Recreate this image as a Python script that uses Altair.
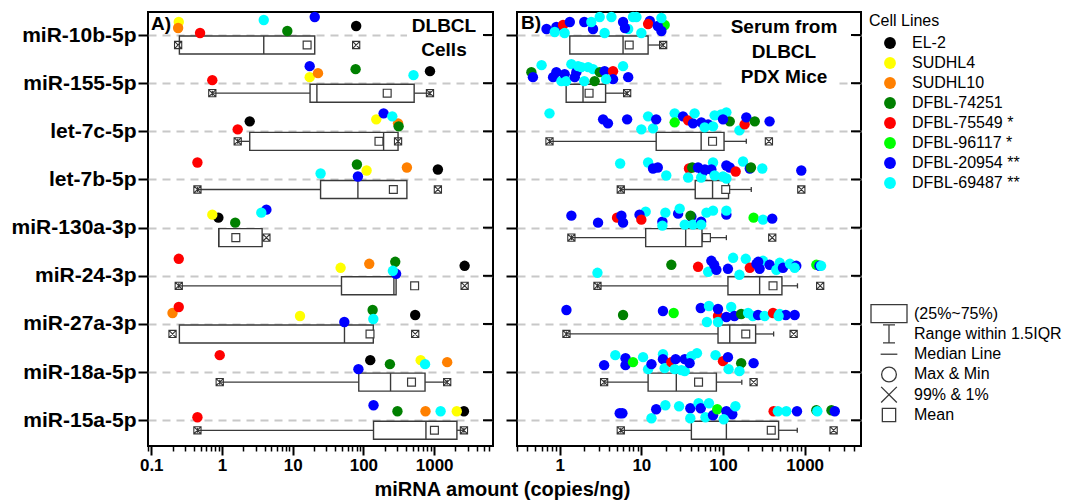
import altair as alt
import pandas as pd

rows = ["miR-10b-5p", "miR-155-5p", "let-7c-5p", "let-7b-5p", "miR-130a-3p",
        "miR-24-3p", "miR-27a-3p", "miR-18a-5p", "miR-15a-5p"]
cell_lines = ["EL-2", "SUDHL4", "SUDHL10", "DFBL-74251", "DFBL-75549 *",
              "DFBL-96117 *", "DFBL-20954 **", "DFBL-69487 **"]
line_colors = ["#000000", "#ffff00", "#ff8000", "#008000", "#ff0000",
               "#00ff00", "#0000ff", "#00ffff"]

# ---------------- Panel A: DLBCL cells (copies/ng), one value per miRNA ----------------
A_EL2 = [79, 874, 2.47, 1130, 0.89, 2700, 540, 125, 2640]
A_SUDHL4 = [0.245, 17.4, 152, 111, 0.73, 47.6, 12.7, 645, 2090]
A_SUDHL10 = [0.24, 22.8, 309, 412, None, 121, 0.20, 1530, 755]
A_74251 = [8.4, 77.6, 315, 81, 1.54, 282, 135, 237, 303]
A_75549 = [0.49, 0.73, 1.67, 0.45, None, 0.245, 0.245, 0.93, 0.45]
A_20954 = [20.5, 17.4, 193, 83.6, 4.25, 290, 53.7, 85, 139]
A_69487 = [3.9, 511, 256, 24.8, 3.6, 261, 138, 744, 1235]
# vertical jitter of each dot above its row line, as drawn (px)
A_EL2_dy = [9, 12, 10, 10, 10, 10, 9, 12, 9]
A_SUDHL4_dy = [13, 6, 12, 9, 13, 8, 8, 12, 9]
A_SUDHL10_dy = [7, 10, 8, 12, None, 12, 11, 10, 9]
A_74251_dy = [4, 14, 5, 15, 5, 14, 14, 8, 9]
A_75549_dy = [2, 3, 2, 17, None, 17, 17, 17, 3]
A_20954_dy = [18, 17, 18, 3, 18, 2, 2, 3, 15]
A_69487_dy = [15, 8, 15, 6, 15, 5, 5, 8, 9]

A_q1 = [0.25, 17.6, 2.47, 24.8, 0.9, 49, 0.25, 86, 139]
A_q3 = [20.5, 522, 309, 412, 3.7, 290, 138, 744, 2100]
A_med = [3.9, 22, 193, 83.6, 0.9, 270, 54, 242, 766]
A_mean = [16, 217, 166, 265, 1.57, 530, 124, 479, 1010]
A_wlo = [0.25, 0.73, 1.67, 0.45, 0.9, 0.245, 0.25, 0.93, 0.45]
A_whi = [20.5, 874, 309, 412, 3.7, 290, 138, 1530, 2640]
A_p1 = [0.24, 0.73, 1.67, 0.45, None, 0.245, 0.2, 0.93, 0.45]
A_p99 = [79, 874, 309, 1130, 4.25, 2700, 540, 1530, 2640]

# ---------------- Panel B: serum from PDX mice ----------------
# codes: b=DFBL-20954, c=DFBL-69487, r=DFBL-75549, g=DFBL-74251, l=DFBL-96117
code_map = {"b": "DFBL-20954 **", "c": "DFBL-69487 **", "r": "DFBL-75549 *",
            "g": "DFBL-74251", "l": "DFBL-96117 *"}

B0_val = [0.69, 0.91, 1.1, 1.33, 0.87, 1.15, 2.0, 2.56, 2.44, 3.09, 4.3, 3.55, 5.97, 6.9,
          7.9, 8.7, 12.7, 12.1, 19.3, 17.6, 10, 15.9, 17.6, 6.3]
B0_line = "bbrbccbbccccbcccbrlbcbcb"
B0_dy = [6, 8, 10, 13, 3, 2, 13, 6, 13, 18, 18, 2, 13, 6, 18, 18, 14, 11, 10, 4, 2, 9, 17, 7]

B1_val = [0.45, 0.47, 0.6, 0.83, 0.91, 1.05, 1.15, 1.2, 1.39, 1.53, 1.6, 1.68, 1.84, 2.0,
          2.23, 2.56, 2.68, 3.1, 3.55, 4.5, 4.5, 3.7, 5.97, 6.9]
B1_line = "gbcbbcbccbbcccccggbrbccb"
B1_dy = [11, 6, 18, 6, 11, 2, 9, 2, 19, 6, 11, 17, 16, 2, 16, 14, 2, 11, 12, 12, 4, 4, 17, 6]

B2_val = [0.75, 3.4, 3.9, 6.7, 10, 12.1, 13.9, 15.2, 25.6, 25.6, 32.4, 37.4, 42.9, 44.9,
          54.3, 65.8, 59.6, 75.5, 79, 95, 110, 121, 100, 159, 184, 193, 245, 372]
B2_line = "cbbbcccbclbrbcbbcccccgbcrbgb"
B2_dy = [18, 12, 8, 12, 2, 15, 3, 12, 18, 9, 15, 11, 8, 18, 9, 7, 4, 5, 16, 17, 19, 10, 12,
         1, 7, 14, 10, 10]

B3_val = [5.5, 12.1, 13.9, 15.9, 20.2, 38.3, 42, 49.5, 37.4, 56.9, 54, 75.5, 72, 79, 100,
          110, 110, 121, 143, 176, 213, 220, 303, 910, 60]
B3_line = "ccbbcrgbcbccbcccbbrcbgcbb"
B3_dy = [16, 17, 11, 12, 4, 11, 12, 12, 2, 8, 2, 17, 10, 4, 3, 1, 14, 12, 8, 18, 11, 12, 11,
         9, 10]

B4_val = [1.39, 2.95, 5.04, 5.7, 5.97, 11.3, 9.5, 10, 18.1, 18.1, 19.7, 28.2, 29.5, 34, 41,
          40, 42.9, 54, 54, 62.7, 75.5, 110, 110, 237, 309, 401]
B4_line = "bbrbbcbrbccbccbgcbcccbclcb"
B4_dy = [12, 5, 10, 12, 5, 16, 13, 8, 6, 2, 15, 14, 19, 3, 11, 12, 3, 6, 3, 15, 17, 13, 17,
         10, 8, 9]

B5_val = [2.9, 23.3, 49.5, 65.8, 72, 83, 78, 115, 133, 159, 190, 213, 257, 309, 281, 372,
          495, 450, 543, 660, 790, 755, 1390, 1520, 1590, 270]
B5_line = "cgrcbbbbcccrbcbbccbcbclbcb"
B5_dy = [3, 11, 9, 4, 15, 6, 11, 7, 18, 1, 17, 8, 12, 15, 7, 11, 13, 6, 8, 12, 10, 8, 11,
         10, 10, 14]

B6_val = [1.21, 5.97, 18.4, 24.9, 53.4, 67.3, 63.5, 86.9, 86.9, 86.9, 110, 126, 138, 167,
          203, 232, 269, 324, 410, 495, 587, 755, 480]
B6_line = "bgblbccrbcbcbgccbcrcbbc"
B6_dy = [14, 9, 13, 11, 16, 18, 2, 8, 15, 2, 7, 17, 8, 10, 11, 8, 9, 8, 11, 10, 9, 9, 8]

B7_val = [3.5, 4.8, 6.4, 6.4, 7.9, 10.5, 12.1, 13.3, 18.4, 18.4, 19.3, 23.3, 26.3, 25.6,
          30.9, 34, 34, 41, 39, 48, 81, 100, 115, 117, 167, 159, 237]
B7_line = "bcbblccbcbcrbccbccbccrbcgcb"
B7_dy = [7, 17, 14, 7, 10, 15, 3, 8, 18, 13, 4, 10, 13, 3, 2, 13, 1, 16, 9, 19, 17, 11, 15,
         3, 9, 1, 9]

B8_val = [5.43, 5.86, 13.3, 15.2, 19.7, 29, 39.8, 39.8, 50.2, 53.4, 61, 67.3, 75.5, 85,
          110, 130, 102, 142, 417, 470, 596, 806, 1390, 1430, 2130, 2340]
B8_line = "bbcbccbccbccblbbccrccbgcgb"
B8_dy = [7, 7, 2, 11, 15, 14, 12, 2, 17, 12, 3, 17, 5, 11, 9, 6, 1, 14, 9, 9, 9, 9, 10, 9,
         10, 9]

B_q1 = [1.33, 1.2, 15.2, 45.7, 11.3, 115, 86.9, 12.1, 41]
B_q3 = [12.1, 3.65, 103, 117, 55.3, 527, 251, 83, 480]
B_med = [5.97, 1.93, 54, 74.5, 34.9, 281, 121, 26.8, 110]
B_mean = [7.1, 2.29, 74.5, 108, 62.7, 410, 190, 50.2, 390]
B_wlo = [1.33, 1.2, 0.75, 5.6, 1.39, 2.9, 1.21, 3.5, 5.6]
B_whi = [18.5, 6.7, 193, 222, 110, 817, 417, 170, 812]
B_p1 = [None, None, 0.75, 5.6, 1.39, 2.9, 1.21, 3.5, 5.6]
B_p99 = [18.5, 6.7, 365, 910, 401, 1550, 733, 237, 2265]

box_legend_labels = ["(25%~75%)", "Range within 1.5IQR", "Median Line", "Max & Min",
                     "99% & 1%", "Mean"]

# ---------------- layout constants ----------------
H = 434
WA = 345
WB = 344
YDOM = [-0.478, 8.534]
PX = H / (YDOM[1] - YDOM[0])
XDOM_A = [0.09, 6800]
XDOM_B = [0.3, 4900]
GRAY = "#3a3a3a"
FONT = "Liberation Sans"
XPATH = "M-1,-1H1V1H-1Z M-1,-1L1,1 M-1,1L1,-1"


def ticks_in(dom):
    out = []
    for e in range(-2, 5):
        for m in range(1, 10):
            v = round(m * 10 ** e, 6)
            if dom[0] <= v <= dom[1]:
                out.append(v)
    return out


A_series = [(cell_lines[0], A_EL2, A_EL2_dy), (cell_lines[1], A_SUDHL4, A_SUDHL4_dy),
            (cell_lines[2], A_SUDHL10, A_SUDHL10_dy), (cell_lines[3], A_74251, A_74251_dy),
            (cell_lines[4], A_75549, A_75549_dy), (cell_lines[6], A_20954, A_20954_dy),
            (cell_lines[7], A_69487, A_69487_dy)]
recs = []
for name, vals, dys in A_series:
    for i, (v, d) in enumerate(zip(vals, dys)):
        if v is not None:
            recs.append(dict(row=i, value=v, line=name, dy=d))
ptsA = pd.DataFrame(recs)

B_rows = [(B0_val, B0_line, B0_dy), (B1_val, B1_line, B1_dy), (B2_val, B2_line, B2_dy),
          (B3_val, B3_line, B3_dy), (B4_val, B4_line, B4_dy), (B5_val, B5_line, B5_dy),
          (B6_val, B6_line, B6_dy), (B7_val, B7_line, B7_dy), (B8_val, B8_line, B8_dy)]
recs = []
for i, (vals, codes, dys) in enumerate(B_rows):
    for v, c, d in zip(vals, codes, dys):
        recs.append(dict(row=i, value=v, line=code_map[c], dy=d))
ptsB = pd.DataFrame(recs)


def stats_df(q1, q3, med, mean, wlo, whi):
    return pd.DataFrame(dict(row=list(range(len(rows))), q1=q1, q3=q3, med=med, mean=mean,
                             wlo=wlo, whi=whi))


def marks_df(p1, p99):
    recs = []
    for i, (a, b) in enumerate(zip(p1, p99)):
        for v in (a, b):
            if v is not None:
                recs.append(dict(row=i, value=v))
    return pd.DataFrame(recs)


stA, mkA = stats_df(A_q1, A_q3, A_med, A_mean, A_wlo, A_whi), marks_df(A_p1, A_p99)
stB, mkB = stats_df(B_q1, B_q3, B_med, B_mean, B_wlo, B_whi), marks_df(B_p1, B_p99)

one = pd.DataFrame({"k": [0]})
cscale = alt.Scale(domain=cell_lines, range=line_colors)
color_legend = alt.Legend(title="Cell Lines", orient="none", legendX=721, legendY=1,
                          titleFontSize=16, titleFontWeight="normal", titleColor="black",
                          titleFont=FONT, labelFont=FONT, labelFontSize=16,
                          labelColor="black", symbolType="circle", symbolSize=140,
                          symbolStrokeWidth=0, rowPadding=4, symbolOffset=13,
                          labelOffset=14, titlePadding=6)

major = "abs(log(datum.value)/LN10 - round(log(datum.value)/LN10)) < 0.01"
ylab_arr = "[" + ",".join("'" + r + "'" for r in rows) + "]"


def text_layer(txt, x, y, size=19, align="center"):
    return alt.Chart(one).mark_text(text=txt, font=FONT, fontSize=size, fontWeight="bold",
                                    color="black", align=align, baseline="middle").encode(
        x=alt.value(x), y=alt.value(y))


def bg_layer(x1, x2, y1, y2):
    return alt.Chart(one).mark_rect(color="white").encode(
        x=alt.value(x1), x2=alt.value(x2), y=alt.value(y1), y2=alt.value(y2))


def panel(pts, st, mk, xdom, width, show_ylabels, texts, bgs, xtitle, extra=()):
    xs = alt.Scale(type="log", domain=xdom, nice=False)
    ys = alt.Scale(domain=YDOM, reverse=True, nice=False, zero=False)
    ax_kw = dict(values=ticks_in(xdom),
                 tickSize=9,
                 tickDash={"condition": {"test": major, "value": [20, 0]},
                           "value": [5, 30]},
                 tickWidth={"condition": {"test": major, "value": 2}, "value": 1.5},
                 tickColor="black",
                 labelExpr=f"{major} ? format(datum.value, '~g') : ''",
                 labelFont=FONT, labelFontSize=17, labelFontWeight="bold",
                 labelColor="black", labelPadding=2, labelOverlap=False,
                 labelFlush=False, grid=False, domain=False)
    if xtitle:
        xaxis = alt.Axis(title=xtitle, titleFont=FONT, titleFontSize=20,
                         titleFontWeight="bold", titleColor="black", titleX=354,
                         titlePadding=6, **ax_kw)
    else:
        xaxis = alt.Axis(title=None, **ax_kw)
    yaxis = alt.Axis(values=list(range(len(rows))), title=None,
                     labels=show_ylabels,
                     labelExpr=ylab_arr + "[datum.value]",
                     labelFont=FONT, labelFontSize=21, labelFontWeight="bold",
                     labelColor="black", labelPadding=2, labelOverlap=False,
                     tickSize=10 if show_ylabels else 11, tickWidth=2, tickColor="black",
                     grid=True, gridDash=[8, 6], gridColor="#c8c8c8", gridWidth=2,
                     domain=False)

    def X(f):
        return alt.X(f, scale=xs, axis=xaxis)

    def Y(f):
        return alt.Y(f, scale=ys, axis=yaxis)

    base = alt.Chart(st).transform_calculate(
        ytop=f"datum.row + {1 / PX:.5f}", ybot=f"datum.row + {19 / PX:.5f}",
        ymid=f"datum.row + {10 / PX:.5f}", yc1=f"datum.row + {7.5 / PX:.5f}",
        yc2=f"datum.row + {12.5 / PX:.5f}")

    layers = [bg_layer(*b) for b in bgs]
    layers.append(base.mark_rule(color=GRAY, strokeWidth=1.3).encode(
        x=X("wlo:Q"), x2="q1:Q", y=Y("ymid:Q")))
    layers.append(base.mark_rule(color=GRAY, strokeWidth=1.3).encode(
        x=X("q3:Q"), x2="whi:Q", y=Y("ymid:Q")))
    layers.append(base.mark_rect(fill="white", stroke=GRAY, strokeWidth=1.4).encode(
        x=X("q1:Q"), x2="q3:Q", y=Y("ytop:Q"), y2="ybot:Q"))
    layers.append(base.mark_rule(color=GRAY, strokeWidth=1.4).encode(
        x=X("med:Q"), y=Y("ytop:Q"), y2="ybot:Q"))
    layers.append(base.transform_filter("datum.wlo < datum.q1").mark_rule(
        color=GRAY, strokeWidth=1.3).encode(x=X("wlo:Q"), y=Y("yc1:Q"), y2="yc2:Q"))
    layers.append(base.transform_filter("datum.whi > datum.q3").mark_rule(
        color=GRAY, strokeWidth=1.3).encode(x=X("whi:Q"), y=Y("yc1:Q"), y2="yc2:Q"))
    layers.append(base.mark_point(shape="square", filled=True, fill="white", stroke=GRAY,
                                  strokeWidth=1.2, size=62, opacity=1).encode(
        x=X("mean:Q"), y=Y("ymid:Q")))
    layers.append(alt.Chart(mk).transform_calculate(
        ymid=f"datum.row + {10 / PX:.5f}").mark_point(
        shape=XPATH, filled=False, stroke="#333333", strokeWidth=1.1, size=52,
        opacity=1).encode(x=X("value:Q"), y=Y("ymid:Q")))
    layers.append(alt.Chart(pts).transform_calculate(
        ypt=f"datum.row - datum.dy / {PX:.5f}").mark_circle(size=108, opacity=1).encode(
        x=X("value:Q"), y=Y("ypt:Q"),
        color=alt.Color("line:N", scale=cscale, legend=color_legend)))
    layers.extend(text_layer(*t) for t in texts)
    layers.extend(extra)
    # inward ticks on the right frame at every row
    layers.append(alt.Chart(st).mark_rule(color="black", strokeWidth=2).encode(
        x=alt.value(width - 10), x2=alt.value(width), y=Y("row:Q")))
    return alt.layer(*layers).properties(width=width, height=H)


# box-plot key (drawn to the right of panel B)
key_shapes = ["M-1,-0.5H1V0.5H-1Z", "M-0.667,-1H0.667M0,-1V1M-0.667,1H0.667", "M-1,0H1",
              "circle", "M-1,-1L1,1M-1,1L1,-1", "square"]
key_sizes = [1296, 324, 279, 218, 246, 177]
key_fill = ["white", "transparent", "transparent", "transparent", "transparent",
            "transparent"]
key_df = pd.DataFrame(dict(label=box_legend_labels, shape=key_shapes, size=key_sizes,
                           fillc=key_fill, idx=list(range(len(box_legend_labels)))))
key_base = alt.Chart(key_df).transform_calculate(ypix="301.7 + 20.26 * datum.idx")
key_sym = key_base.mark_point(stroke=GRAY, strokeWidth=1.3, opacity=1, filled=False).encode(
    x=alt.value(372),
    y=alt.Y("ypix:Q", scale=None, axis=None),
    shape=alt.Shape("shape:N", scale=None, legend=None),
    size=alt.Size("size:Q", scale=None, legend=None),
    fill=alt.Fill("fillc:N", scale=None, legend=None))
key_txt = key_base.mark_text(font=FONT, fontSize=16, color="black", align="left",
                             baseline="middle").encode(
    x=alt.value(397), y=alt.Y("ypix:Q", scale=None, axis=None), text="label:N")

panelA = panel(ptsA, stA, mkA, XDOM_A, WA, True,
               texts=[("A)", 3, 12, 19, "left"), ("DLBCL", 296, 14), ("Cells", 296, 38)],
               bgs=[(259, 333, 1, 50)],
               xtitle="miRNA amount (copies/ng)")
panelB = panel(ptsB, stB, mkB, XDOM_B, WB, False,
               texts=[("B)", 4, 11, 19, "left"), ("Serum from", 267, 15),
                      ("DLBCL", 267, 40), ("PDX Mice", 267, 65)],
               bgs=[(210, 333, 1, 45), (210, 318, 45, 80)],
               xtitle=None, extra=(key_sym, key_txt))

chart = alt.hconcat(panelA, panelB, spacing=24, bounds="flush").resolve_scale(
    color="shared").properties(
    padding={"left": 2, "top": 2, "right": 0, "bottom": 0}, background="white"
).configure(font=FONT).configure_view(stroke="black", strokeWidth=2)

chart.save("out.html", embed_options={"renderer": "svg", "actions": False})
